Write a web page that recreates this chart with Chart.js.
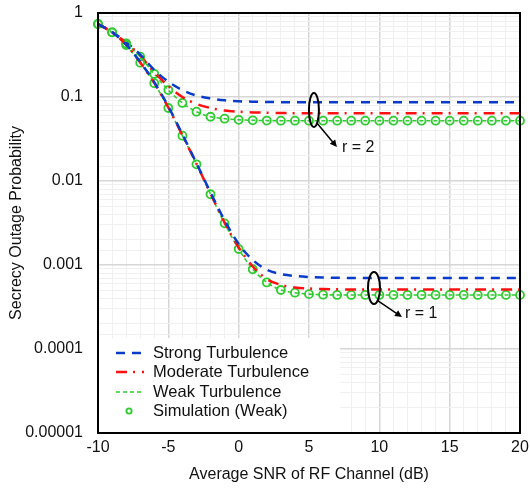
<!DOCTYPE html>
<html>
<head>
<meta charset="utf-8">
<script src="https://cdn.jsdelivr.net/npm/chart.js@4.4.0/dist/chart.umd.min.js"></script>
<style>html,body{margin:0;padding:0;background:#fff}</style>
</head>
<body>
<canvas id="c" width="530" height="489"></canvas>
<script>
// x axis: average SNR in dB, one point per dB
const snr = [-10, -9, -8, -7, -6, -5, -4, -3, -2, -1, 0, 1, 2, 3, 4, 5, 6, 7, 8, 9, 10, 11, 12, 13, 14, 15, 16, 17, 18, 19, 20];

// r = 1
const strongR1 = [0.74, 0.59, 0.42, 0.262, 0.15, 0.077, 0.036, 0.0163, 0.0073, 0.0034, 0.00178, 0.00115, 0.00088, 0.00078, 0.00074, 0.00072, 0.00071, 0.000705, 0.0007, 0.0007, 0.0007, 0.0007, 0.0007, 0.0007, 0.0007, 0.0007, 0.0007, 0.0007, 0.0007, 0.0007, 0.0007];
const moderateR1 = [0.74, 0.59, 0.418, 0.258, 0.147, 0.075, 0.035, 0.016, 0.0071, 0.0032, 0.00162, 0.00096, 0.00068, 0.00058, 0.00054, 0.000525, 0.000518, 0.000514, 0.000512, 0.000512, 0.000512, 0.000512, 0.000512, 0.000512, 0.000512, 0.000512, 0.000512, 0.000512, 0.000512, 0.000512, 0.000512];
const weakR1 = [0.74, 0.589, 0.416, 0.256, 0.146, 0.074, 0.0346, 0.0158, 0.00695, 0.00313, 0.00155, 0.00089, 0.00062, 0.000504, 0.000468, 0.00045, 0.000443, 0.00044, 0.00044, 0.00044, 0.00044, 0.00044, 0.00044, 0.00044, 0.00044, 0.00044, 0.00044, 0.00044, 0.00044, 0.00044, 0.00044];
const simR1 = [0.74, 0.589, 0.416, 0.256, 0.146, 0.074, 0.0346, 0.0158, 0.00695, 0.00313, 0.00155, 0.00089, 0.00062, 0.000504, 0.000468, 0.00045, 0.000443, 0.00044, 0.00044, 0.00044, 0.00044, 0.00044, 0.00044, 0.00044, 0.00044, 0.00044, 0.00044, 0.00044, 0.00044, 0.00044, 0.00044];

// r = 2
const strongR2 = [0.74, 0.595, 0.45, 0.32, 0.21, 0.152, 0.121, 0.104, 0.096, 0.0915, 0.089, 0.088, 0.0872, 0.0868, 0.0865, 0.0865, 0.0865, 0.0865, 0.0865, 0.0865, 0.0865, 0.0865, 0.0865, 0.0865, 0.0865, 0.0865, 0.0865, 0.0865, 0.0865, 0.0865, 0.0865];
const moderateR2 = [0.74, 0.592, 0.443, 0.31, 0.197, 0.135, 0.1, 0.0826, 0.074, 0.069, 0.0668, 0.0655, 0.065, 0.0645, 0.064, 0.064, 0.064, 0.064, 0.064, 0.064, 0.064, 0.064, 0.064, 0.064, 0.064, 0.064, 0.064, 0.064, 0.064, 0.064, 0.064];
const weakR2 = [0.74, 0.589, 0.436, 0.302, 0.188, 0.121, 0.085, 0.0668, 0.0582, 0.0552, 0.0535, 0.0528, 0.0524, 0.0522, 0.0522, 0.0522, 0.0522, 0.0522, 0.0522, 0.0522, 0.0522, 0.0522, 0.0522, 0.0522, 0.0522, 0.0522, 0.0522, 0.0522, 0.0522, 0.0522, 0.0522];
const simR2 = [0.74, 0.589, 0.436, 0.302, 0.188, 0.121, 0.085, 0.0668, 0.0582, 0.0552, 0.0535, 0.0528, 0.0524, 0.0522, 0.0522, 0.0522, 0.0522, 0.0522, 0.0522, 0.0522, 0.0522, 0.0522, 0.0522, 0.0522, 0.0522, 0.0522, 0.0522, 0.0522, 0.0522, 0.0522, 0.0522];

const yTickLabels = ['1', '0.1', '0.01', '0.001', '0.0001', '0.00001'];
const legendNames = ['Strong Turbulence', 'Moderate Turbulence', 'Weak Turbulence', 'Simulation (Weak)'];

// annotation anchors (data coords) for the ellipses
const notes = [
  { text: 'r = 2', x: 5.35, y: 0.070 },
  { text: 'r = 1', x: 9.62, y: 0.000532 }
];

const BLUE = '#0a3ccc', RED = '#ff1010', GREEN = '#2ecc2e';
const FONT = '"Liberation Sans", Arial, sans-serif';

function pts(ys) { return snr.map((x, i) => ({ x: x, y: ys[i] })); }
function isDecade(v) { const l = Math.log10(v); return Math.abs(l - Math.round(l)) < 1e-6; }

function lineSet(label, ys, color, dash, width) {
  return {
    label: label, data: pts(ys), borderColor: color, borderDash: dash, borderWidth: width,
    pointRadius: 0, fill: false, cubicInterpolationMode: 'monotone'
  };
}
function simSet(label, ys) {
  return {
    label: label, data: pts(ys), showLine: false, pointRadius: 4, pointBorderWidth: 1.8,
    pointBorderColor: GREEN, pointBackgroundColor: 'rgba(0,0,0,0)', borderColor: GREEN, clip: 8
  };
}

const datasets = [
  lineSet(legendNames[0], strongR1, BLUE, [9, 7], 2.5),
  lineSet(legendNames[1], moderateR1, RED, [11, 6, 2, 7], 2.5),
  lineSet(legendNames[2], weakR1, GREEN, [4, 3], 1.6),
  simSet(legendNames[3], simR1),
  lineSet('', strongR2, BLUE, [9, 7], 2.5),
  lineSet('', moderateR2, RED, [11, 6, 2, 7], 2.5),
  lineSet('', weakR2, GREEN, [4, 3], 1.6),
  simSet('', simR2)
];

// legend box inside the plot, notes, and the black frame
const decor = {
  id: 'decor',
  afterDraw(chart) {
    const { ctx, chartArea: a, scales } = chart;
    ctx.save();

    // ellipses + arrows
    ctx.strokeStyle = '#000';
    ctx.fillStyle = '#000';
    ctx.lineWidth = 2;
    ctx.font = '16px ' + FONT;
    ctx.textBaseline = 'middle';
    ctx.textAlign = 'left';
    const offs = [
      { rx: 5, ry: 17, sx: 3, sy: 13, ex: 23, ey: 37, tx: 28, ty: 38 },
      { rx: 6, ry: 16, sx: 3, sy: 12, ex: 28, ey: 29, tx: 31, ty: 26 }
    ];
    notes.forEach((n, i) => {
      const o = offs[i];
      const cx = scales.x.getPixelForValue(n.x);
      const cy = scales.y.getPixelForValue(n.y);
      ctx.beginPath();
      ctx.ellipse(cx, cy, o.rx, o.ry, 0, 0, Math.PI * 2);
      ctx.stroke();
      const x1 = cx + o.sx, y1 = cy + o.sy, x2 = cx + o.ex, y2 = cy + o.ey;
      const ang = Math.atan2(y2 - y1, x2 - x1);
      ctx.lineWidth = 1.5;
      ctx.beginPath();
      ctx.moveTo(x1, y1);
      ctx.lineTo(x2 - 4 * Math.cos(ang), y2 - 4 * Math.sin(ang));
      ctx.stroke();
      ctx.beginPath();
      ctx.moveTo(x2, y2);
      ctx.lineTo(x2 - 7 * Math.cos(ang) + 3.5 * Math.sin(ang), y2 - 7 * Math.sin(ang) - 3.5 * Math.cos(ang));
      ctx.lineTo(x2 - 7 * Math.cos(ang) - 3.5 * Math.sin(ang), y2 - 7 * Math.sin(ang) + 3.5 * Math.cos(ang));
      ctx.closePath();
      ctx.fill();
      ctx.lineWidth = 2;
      ctx.fillStyle = '#111';
      ctx.fillText(n.text, cx + o.tx, cy + o.ty);
      ctx.fillStyle = '#000';
    });

    // legend
    const top = a.bottom - 95;
    ctx.fillStyle = '#fff';
    ctx.fillRect(a.left, top, 242, a.bottom - top);
    const rows = [15, 34, 54, 73];
    for (let i = 0; i < 4; i++) {
      const ds = datasets[i];
      const y = top + rows[i];
      if (ds.showLine === false) {
        ctx.beginPath();
        ctx.setLineDash([]);
        ctx.lineWidth = 1.8;
        ctx.strokeStyle = GREEN;
        ctx.arc(a.left + 31, y, 2.6, 0, Math.PI * 2);
        ctx.stroke();
      } else {
        ctx.beginPath();
        ctx.setLineDash(ds.borderDash);
        ctx.lineWidth = ds.borderWidth;
        ctx.strokeStyle = ds.borderColor;
        ctx.moveTo(a.left + 18, y);
        ctx.lineTo(a.left + 46, y);
        ctx.stroke();
      }
      ctx.setLineDash([]);
      ctx.fillStyle = '#111';
      ctx.font = '16.5px ' + FONT;
      ctx.fillText(ds.label, a.left + 55, y);
    }

    // frame
    ctx.strokeStyle = '#000';
    ctx.lineWidth = 2;
    ctx.strokeRect(a.left, a.top, a.right - a.left, a.bottom - a.top);
    ctx.restore();
  }
};

new Chart(document.getElementById('c'), {
  type: 'line',
  data: { datasets: datasets },
  options: {
    responsive: false,
    animation: false,
    layout: { padding: { left: 0, right: 10, top: 13, bottom: 0 } },
    plugins: { legend: { display: false }, tooltip: { enabled: false } },
    scales: {
      x: {
        type: 'linear', min: -10, max: 20,
        afterFit: s => { s.height = 56; s.paddingLeft = 0; s.paddingRight = 0; },
        border: { display: false },
        grid: {
          drawTicks: false,
          color: c => (c.tick && c.tick.value % 5 === 0) ? '#d6d6d6' : '#f0f0f0',
          lineWidth: c => (c.tick && c.tick.value % 5 === 0) ? 1.5 : 1
        },
        ticks: {
          stepSize: 1, autoSkip: false, maxRotation: 0, padding: 5,
          color: '#111', font: { family: FONT, size: 16 },
          callback: v => (v % 5 === 0 ? String(v) : '')
        },
        title: {
          display: true, text: 'Average SNR of RF Channel (dB)', color: '#111',
          font: { family: FONT, size: 16 }, padding: { top: 0, bottom: 5 }
        }
      },
      y: {
        type: 'logarithmic', min: 0.00001, max: 1,
        afterFit: s => { s.width = 98; s.paddingTop = 0; s.paddingBottom = 0; },
        border: { display: false },
        grid: {
          drawTicks: false,
          color: c => (c.tick && isDecade(c.tick.value)) ? '#d6d6d6' : '#f0f0f0',
          lineWidth: c => (c.tick && isDecade(c.tick.value)) ? 1.5 : 1
        },
        ticks: {
          autoSkip: false, padding: 15, color: '#111', font: { family: FONT, size: 16 },
          callback: v => isDecade(v) ? yTickLabels[-Math.round(Math.log10(v))] : ''
        },
        title: {
          display: true, text: 'Secrecy Outage Probability', color: '#111',
          font: { family: FONT, size: 16 }, padding: { top: 7, bottom: 0 }
        }
      }
    }
  },
  plugins: [decor]
});
</script>
</body>
</html>
